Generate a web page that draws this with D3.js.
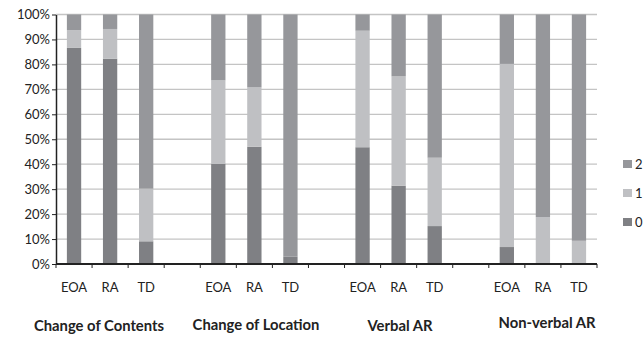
<!DOCTYPE html>
<html><head><meta charset="utf-8">
<script src="https://cdn.jsdelivr.net/npm/d3@7"></script>
<style>body{margin:0;background:#fff}svg{display:block}</style>
</head><body>
<svg id="c" width="643" height="338"></svg>
<script>
const groups = ["Change of Contents","Change of Location","Verbal AR","Non-verbal AR"];
const subCats = ["EOA","RA","TD"];
const seriesNames = ["0","1","2"];
// percentages per bar (order: group x subCat)
const s0 = [86.6, 82.3, 9.1,  40.2, 47.0, 2.9,  46.8, 31.4, 15.2,  6.8, 0, 0];
const s1 = [7.1, 11.9, 21.1,  33.4, 23.8, 0,  46.7, 43.8, 27.4,  73.4, 18.8, 9.3];
const s2 = [6.3, 5.8, 69.8,  26.4, 29.2, 97.1,  6.5, 24.8, 57.4,  19.8, 81.2, 90.7];
const yTicks = [0,10,20,30,40,50,60,70,80,90,100];
const colors = ["#7f8084","#bfc0c3","#96979b"];

(function(){
const svg = d3.select("#c");
const pL=56, pR=597, pT=14.5, pB=264;
const nSlots = 15;
const slotIdx = [];
groups.forEach((g,gi)=>subCats.forEach((s,si)=>slotIdx.push(gi*4+si)));
const x = d3.scaleBand().domain(d3.range(nSlots)).range([pL,pR]).paddingInner(0).paddingOuter(0);
const y = d3.scaleLinear().domain([0,100]).range([pB,pT]);
const barW = 14.3;

// gridlines
svg.append("g").selectAll("line").data(yTicks.filter(d=>d>0)).join("line")
  .attr("x1",pL).attr("x2",pR).attr("y1",d=>y(d)).attr("y2",d=>y(d))
  .attr("stroke","#c4c4c4").attr("stroke-width",1.3);

// bars
const series = [s0,s1,s2];
const stacked = slotIdx.map((slot,i)=>{let acc=0;return series.map((s,k)=>{const r={slot,k,y0:acc,y1:acc+s[i]};acc+=s[i];return r;});}).flat();
svg.append("g").selectAll("rect").data(stacked.filter(d=>d.y1>d.y0)).join("rect")
  .attr("x",d=>x(d.slot)+x.bandwidth()/2-barW/2).attr("width",barW)
  .attr("y",d=>y(d.y1)).attr("height",d=>y(d.y0)-y(d.y1))
  .attr("fill",d=>colors[d.k]);

// y axis
const ya = svg.append("g").attr("transform",`translate(${pL},0)`)
  .call(d3.axisLeft(y).tickValues(yTicks).tickFormat(d=>d+"%").tickSize(4).tickSizeOuter(0));
ya.select(".domain").attr("stroke","#222").attr("stroke-width",1.5);
ya.selectAll(".tick line").attr("stroke","#222");
ya.selectAll("text").attr("font-family","Lato, 'Open Sans', sans-serif").attr("font-size",13).attr("fill","#222").attr("x",-6);

// x axis
const xa = svg.append("g").attr("transform",`translate(0,${pB})`);
xa.append("line").attr("x1",pL).attr("x2",pR).attr("stroke","#222").attr("stroke-width",1.8);
const bounds = d3.range(nSlots+1).map(i=>pL+i*x.step());
xa.selectAll(".tk").data(bounds).join("line").attr("class","tk")
  .attr("x1",d=>d).attr("x2",d=>d).attr("y1",0).attr("y2",4).attr("stroke","#222");

// category labels
const catData = slotIdx.map((slot,i)=>({slot,label:subCats[i%3]}));
svg.append("g").selectAll("text").data(catData).join("text")
  .attr("x",d=>x(d.slot)+x.bandwidth()/2).attr("y",292)
  .attr("text-anchor","middle").attr("font-family","Lato, 'Open Sans', sans-serif")
  .attr("font-size",13).attr("fill","#222").text(d=>d.label);

// group labels
const groupX = [99, 256, 400, 547];
const groupY = [331, 330, 331, 328];
svg.append("g").selectAll("text").data(groups).join("text")
  .attr("x",(d,i)=>groupX[i]).attr("y",(d,i)=>groupY[i])
  .attr("text-anchor","middle").attr("font-family","Lato, 'Open Sans', sans-serif")
  .attr("font-weight","bold").attr("font-size",14.8).attr("fill","#222").text(d=>d);

// legend
const legOrder = [2,1,0];
const lg = svg.append("g").selectAll("g").data(legOrder).join("g")
  .attr("transform",(d,i)=>`translate(623,${160+i*29})`);
lg.append("rect").attr("width",9).attr("height",8).attr("fill",d=>colors[d]);
lg.append("text").attr("x",12).attr("y",9).attr("font-family","Lato, 'Open Sans', sans-serif")
  .attr("font-size",13).attr("fill","#222").text(d=>seriesNames[d]);
})();
</script>
</body></html>
